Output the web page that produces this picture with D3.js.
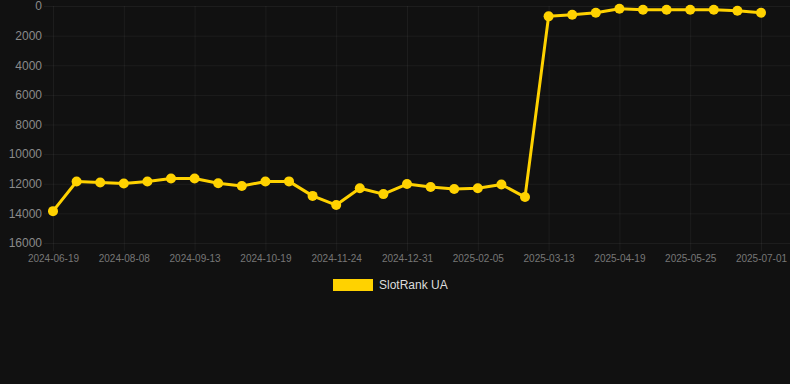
<html>
<head>
<script src="https://d3js.org/d3.v7.min.js"></script>
<style>
  body { margin: 0; background: #111111; }
  svg { display: block; }
</style>
</head>
<body>
<div id="chart"><svg width="790" height="384"></svg></div>
<script>
// dates (x categories) and SlotRank UA rank values
var dates = [
  "2024-06-19", "2024-07-06", "2024-07-22", "2024-08-08", "2024-08-20", "2024-09-01",
  "2024-09-13", "2024-09-25", "2024-10-07", "2024-10-19", "2024-10-31", "2024-11-12",
  "2024-11-24", "2024-12-06", "2024-12-18", "2024-12-31", "2025-01-12", "2025-01-24",
  "2025-02-05", "2025-02-17", "2025-03-01", "2025-03-13", "2025-03-25", "2025-04-07",
  "2025-04-19", "2025-05-01", "2025-05-13", "2025-05-25", "2025-06-06", "2025-06-18",
  "2025-07-01"
];
var ranks = [
  13850, 11850, 11920, 11980, 11850, 11650,
  11650, 11970, 12150, 11850, 11840, 12820,
  13440, 12300, 12700, 12020, 12220, 12360,
  12300, 12050, 12900, 700, 590, 450,
  180, 250, 250, 250, 250, 320,
  450
];
var yTicks = [0, 2000, 4000, 6000, 8000, 10000, 12000, 14000, 16000];
var seriesName = "SlotRank UA";

var svg = d3.select("#chart svg");
var color = "#FFD200";
var grid = "rgba(255,255,255,0.05)";

var x = d3.scalePoint()
  .domain(dates)
  .range([53, 761]);

var y = d3.scaleLinear()
  .domain([0, 16000])
  .range([6, 243]);

// horizontal grid + y labels
var yAxis = d3.axisLeft(y)
  .tickValues(yTicks)
  .tickSize(-(790 - 44))
  .tickPadding(2)
  .tickFormat(d3.format("d"));

var gy = svg.append("g")
  .attr("transform", "translate(44,0)")
  .call(yAxis);
gy.select(".domain").remove();
gy.selectAll(".tick line").attr("stroke", grid);
gy.selectAll(".tick text")
  .attr("fill", "#8a8a8a")
  .style("font-family", "Helvetica, Arial, sans-serif")
  .style("font-size", "12px");

// vertical grid + x labels, every 3rd date
var xTicks = dates.filter(function(d, i) { return i % 3 == 0 });
var xAxis = d3.axisBottom(x)
  .tickValues(xTicks)
  .tickSize(-(243 - 6) - 8);

var gx = svg.append("g")
  .attr("transform", "translate(0,251)")
  .call(xAxis);
gx.select(".domain").remove();
gx.selectAll(".tick line").attr("stroke", grid);
gx.selectAll(".tick text")
  .attr("y", 4)
  .attr("fill", "#777")
  .style("font-family", "Helvetica, Arial, sans-serif")
  .style("font-size", "10px");

// line
var line = d3.line()
  .x(function(d, i) { return x(dates[i]) })
  .y(function(d) { return y(d) });

svg.append("path")
  .datum(ranks)
  .attr("d", line)
  .attr("fill", "none")
  .attr("stroke", color)
  .attr("stroke-width", 3)
  .attr("stroke-linejoin", "round");

svg.selectAll("circle.pt")
  .data(ranks)
  .enter()
  .append("circle")
  .classed("pt", true)
  .attr("cx", function(d, i) { return x(dates[i]) })
  .attr("cy", function(d) { return y(d) })
  .attr("r", 5)
  .attr("fill", color);

// legend
var legend = svg.append("g").attr("transform", "translate(333,279)");
legend.append("rect")
  .attr("width", 40)
  .attr("height", 12)
  .attr("fill", color);
legend.append("text")
  .attr("x", 46)
  .attr("y", 10)
  .attr("fill", "#dddddd")
  .style("font-family", "Helvetica, Arial, sans-serif")
  .style("font-size", "12px")
  .text(seriesName);
</script>
</body>
</html>
